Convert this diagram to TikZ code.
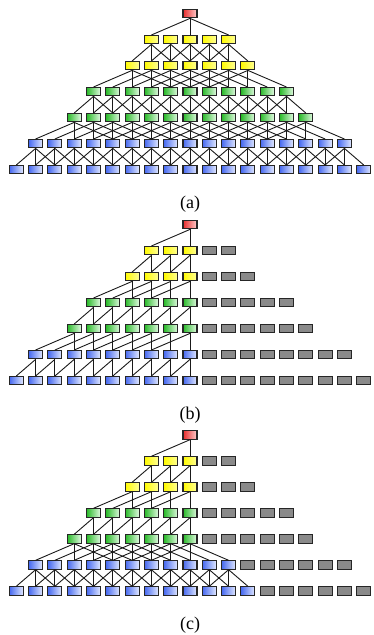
\documentclass[tikz,border=0pt]{standalone}
\usepackage{fontspec}
\setmainfont{Liberation Serif}

\definecolor{redL}{RGB}{232,45,45}
\definecolor{redR}{RGB}{255,205,205}
\definecolor{yelL}{RGB}{255,250,0}
\definecolor{yelR}{RGB}{255,255,150}
\definecolor{grnL}{RGB}{40,185,40}
\definecolor{grnR}{RGB}{225,250,225}
\definecolor{bluL}{RGB}{70,105,240}
\definecolor{bluR}{RGB}{225,232,255}
\definecolor{unused}{RGB}{138,138,138}

% half widths of the rows, and the stride to the next row
\def\wid{{0,2,3,5,6,8,9}}
\def\gap{{2,1,2,1,2,1}}
% last coloured position of each row
\def\lima{{9,9,9,9,9,9,9}}
\def\limb{{0,0,0,0,0,0,0}}
\def\limc{{0,0,0,0,0,2,3}}
% links to both sides (1) or only to the left (0)
\def\botha{{1,1,1,1,1,1}}
\def\bothb{{0,0,0,0,0,0}}
\def\bothc{{0,0,0,0,1,1}}

\tikzset{
  box/.style={draw=black!85, line width=1.1bp, minimum width=14bp, minimum height=8.3bp, inner sep=0pt},
  lev0/.style={box, left color=redL, right color=redR},
  lev1/.style={box, left color=yelL, right color=yelR},
  lev2/.style={lev1},
  lev3/.style={box, left color=grnL, right color=grnR},
  lev4/.style={lev3},
  lev5/.style={box, left color=bluL, right color=bluR},
  lev6/.style={lev5},
  greybox/.style={box, fill=unused},
  link/.style={line width=0.9bp, black!90},
  caption/.style={font=\fontsize{18bp}{21bp}\selectfont, inner sep=0pt}
}

\begin{document}
\begin{tikzpicture}[x=1bp, y=-1bp]
\useasboundingbox (0,0) rectangle (373,635);

\foreach \nm/\dy/\lims/\both in {a/13.7/\lima/\botha, b/224.7/\limb/\bothb, c/435/\limc/\bothc}{
  % boxes
  \foreach \lv in {0,...,6}{
    \pgfmathtruncatemacro\ww{\wid[\lv]}
    \pgfmathtruncatemacro\cmax{\lims[\lv]}
    \foreach \kk in {-\ww,...,\ww}{
      \pgfmathtruncatemacro\jj{\kk+9}
      \ifnum\kk>\cmax \def\sty{greybox}\else \def\sty{lev\lv}\fi
      \node[\sty] (\nm\lv-\jj) at (190+19.3*\kk, \dy+26*\lv) {};
    }
  }
  % links
  \foreach \lv in {0,...,5}{
    \pgfmathtruncatemacro\nx{\lv+1}
    \pgfmathtruncatemacro\ww{\wid[\lv]}
    \pgfmathtruncatemacro\dd{\gap[\lv]}
    \pgfmathtruncatemacro\cmax{\lims[\lv]}
    \pgfmathtruncatemacro\sides{\both[\lv]}
    \foreach \kk in {-\ww,...,\ww}
      \foreach \ofs in {-\dd,0,\dd}{
        \pgfmathtruncatemacro\src{\kk+9}
        \pgfmathtruncatemacro\dst{\kk+(\ofs)+9}
        \pgfmathtruncatemacro\ok{and(\kk<=\cmax, or(\ofs<=0, \sides==1))}
        \ifnum\ok=1 \draw[link] (\nm\lv-\src.south) -- (\nm\nx-\dst.north);\fi
      }
  }
  \node[caption] (cap\nm) at (190, \dy+190) {(\nm)};
}
\end{tikzpicture}
\end{document}
